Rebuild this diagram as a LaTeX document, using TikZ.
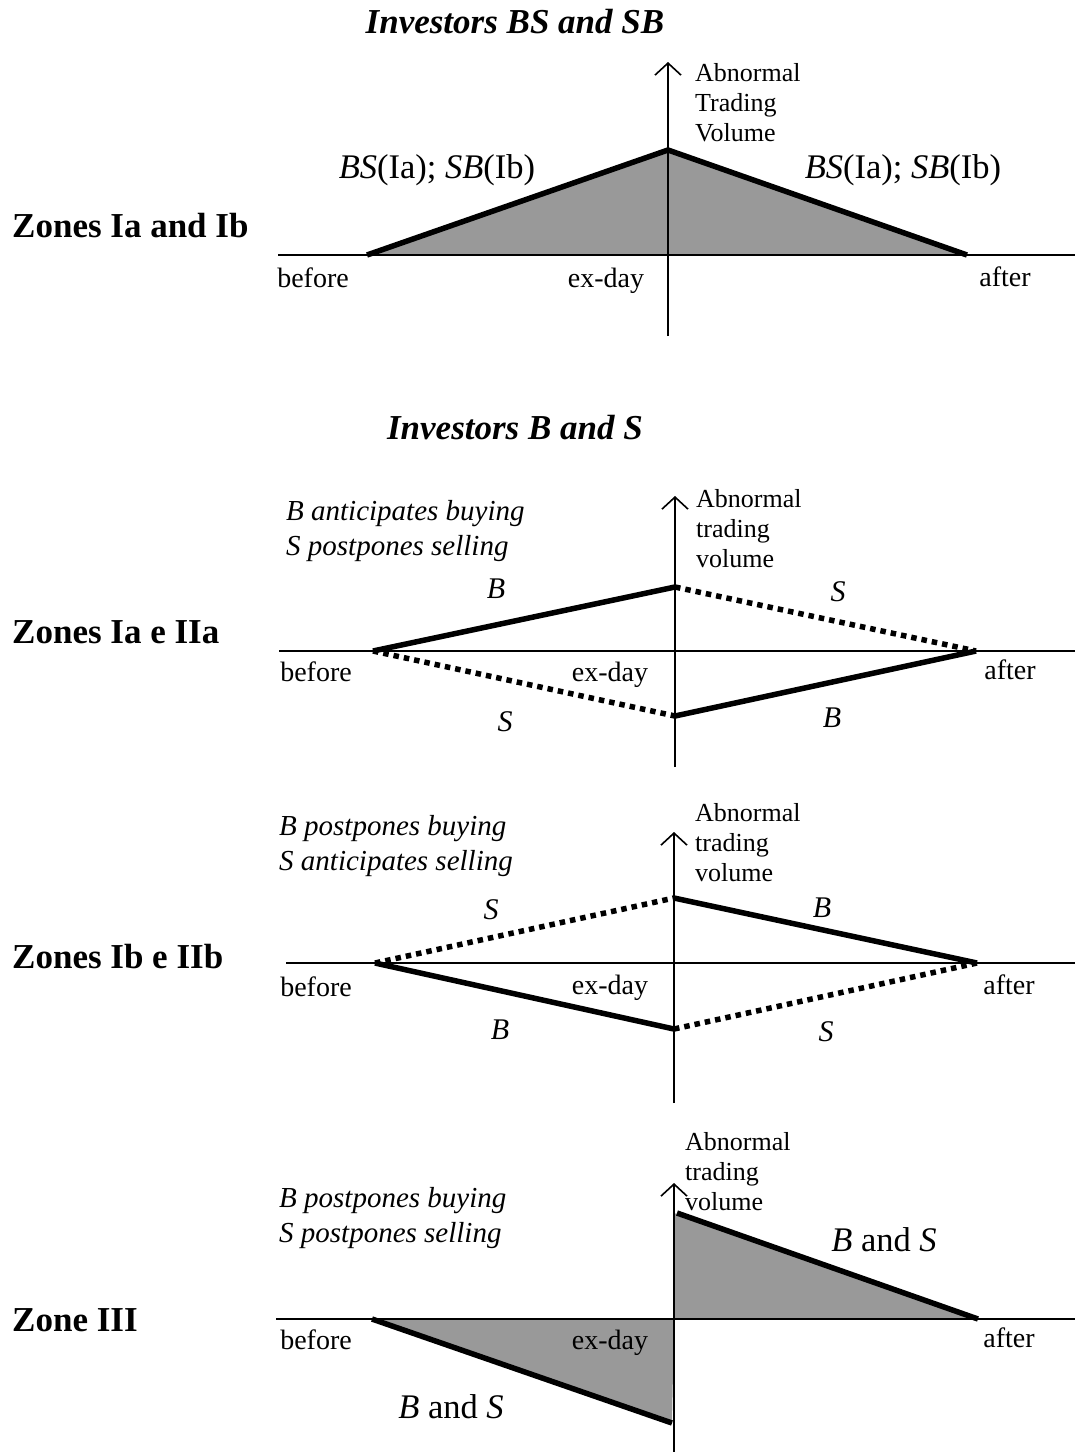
\documentclass[tikz,border=0pt]{standalone}
\usepackage{fontspec}
\setmainfont{Liberation Serif}
\usetikzlibrary{arrows.meta}
\begin{document}
\begin{tikzpicture}[x=1pt,y=-1pt,
  lbl/.style={inner sep=0pt, font=\fontsize{28}{32}\selectfont},
  ylab/.style={inner sep=0pt, anchor=west, align=left, font=\fontsize{26}{30}\selectfont},
  zone/.style={inner sep=0pt, anchor=west, font=\fontsize{35}{40}\selectfont\bfseries},
  ttl/.style={inner sep=0pt, font=\fontsize{35}{40}\selectfont\bfseries\itshape},
  desc/.style={inner sep=0pt, anchor=west, align=left, font=\fontsize{29}{35}\selectfont\itshape},
  inv/.style={inner sep=0pt, font=\fontsize{30}{34}\selectfont\itshape},
  mix/.style={inner sep=0pt, font=\fontsize{34.5}{38}\selectfont},
  haxis/.style={line width=1.6pt},
  vaxis/.style={line width=1.6pt, -{Straight Barb[length=12pt,width=26pt,line width=1.6pt]}},
  thickl/.style={line width=5.5pt},
  dotl/.style={line width=5.5pt, dash pattern=on 5.5pt off 5pt},
  area/.style={fill=black!40, draw=none}]
\useasboundingbox[fill=white] (0,0) rectangle (1075,1452);

% ---------------- Panel 1 ----------------
\node[ttl] (t1) at (515,22) {Investors BS and SB};
\node[zone] (z1) at (12,226) {Zones Ia and Ib};
\coordinate (p1l) at (278,255);  \coordinate (p1r) at (1075,255);
\coordinate (p1b) at (668,336);  \coordinate (p1t) at (668,62);
\coordinate (p1a) at (367,255);  \coordinate (p1m) at (668,150);  \coordinate (p1c) at (967,255);
\fill[area] (p1a) -- (p1m) -- (p1c) -- cycle;
\draw[haxis] (p1l) -- (p1r);
\draw[vaxis] (p1b) -- (p1t);
\draw[thickl] (p1a) -- (p1m) -- (p1c);
\node[ylab] (y1) at (695,103) {Abnormal\\Trading\\Volume};
\node[mix] (m1a) at (437,170) {\textit{BS}(Ia); \textit{SB}(Ib)};
\node[mix] (m1b) at (903,170) {\textit{BS}(Ia); \textit{SB}(Ib)};
\node[lbl] (bf1) at (313,278) {before};
\node[lbl] (ex1) at (606,281) {ex-day};
\node[lbl] (af1) at (1005,277) {after};

% ---------------- Panel 2 ----------------
\node[ttl] (t2) at (515,428) {Investors B and S};
\node[zone] (z2) at (12,632) {Zones Ia e IIa};
\coordinate (p2l) at (279,651);  \coordinate (p2r) at (1075,651);
\coordinate (p2b) at (675,767);  \coordinate (p2t) at (675,496);
\coordinate (p2a) at (373,651);  \coordinate (p2u) at (675,587);
\coordinate (p2d) at (675,716);  \coordinate (p2c) at (976,651);
\draw[haxis] (p2l) -- (p2r);
\draw[vaxis] (p2b) -- (p2t);
\draw[thickl] (p2a) -- (p2u);
\draw[dotl] (p2u) -- (p2c);
\draw[dotl] (p2a) -- (p2d);
\draw[thickl] (p2d) -- (p2c);
\node[ylab] (y2) at (696,529) {Abnormal\\trading\\volume};
\node[desc] (d2) at (286,531) {B anticipates buying\\S postpones selling};
\node[inv] (b2a) at (496,589) {B};
\node[inv] (s2a) at (838,592) {S};
\node[inv] (s2b) at (505,722) {S};
\node[inv] (b2b) at (832,718) {B};
\node[lbl] (bf2) at (316,672) {before};
\node[lbl] (ex2) at (610,675) {ex-day};
\node[lbl] (af2) at (1010,670) {after};

% ---------------- Panel 3 ----------------
\node[zone] (z3) at (12,957) {Zones Ib e IIb};
\coordinate (p3l) at (286,963);  \coordinate (p3r) at (1075,963);
\coordinate (p3b) at (674,1103); \coordinate (p3t) at (674,832);
\coordinate (p3a) at (375,963);  \coordinate (p3u) at (674,898);
\coordinate (p3d) at (674,1029); \coordinate (p3c) at (977,963);
\draw[haxis] (p3l) -- (p3r);
\draw[vaxis] (p3b) -- (p3t);
\draw[dotl] (p3a) -- (p3u);
\draw[thickl] (p3u) -- (p3c);
\draw[thickl] (p3a) -- (p3d);
\draw[dotl] (p3d) -- (p3c);
\node[ylab] (y3) at (695,843) {Abnormal\\trading\\volume};
\node[desc] (d3) at (279,846) {B postpones buying\\S anticipates selling};
\node[inv] (s3a) at (491,910) {S};
\node[inv] (b3a) at (822,908) {B};
\node[inv] (b3b) at (500,1030) {B};
\node[inv] (s3b) at (826,1032) {S};
\node[lbl] (bf3) at (316,987) {before};
\node[lbl] (ex3) at (610,988) {ex-day};
\node[lbl] (af3) at (1009,985) {after};

% ---------------- Panel 4 ----------------
\node[zone] (z4) at (12,1320) {Zone III};
\coordinate (p4l) at (276,1319); \coordinate (p4r) at (1075,1319);
\coordinate (p4b) at (674,1452); \coordinate (p4t) at (674,1183);
\coordinate (p4o) at (674,1319);
\coordinate (p4u) at (677,1213); \coordinate (p4c) at (978,1319);
\coordinate (p4a) at (372,1319); \coordinate (p4d) at (672,1423);
\fill[area] (p4o) -- (674,1213) -- (p4c) -- cycle;
\fill[area] (p4a) -- (p4d) -- (p4o) -- cycle;
\draw[haxis] (p4l) -- (p4r);
\draw[vaxis] (p4b) -- (p4t);
\draw[thickl] (p4u) -- (p4c);
\draw[thickl] (p4a) -- (p4d);
\node[ylab] (y4) at (685,1172) {Abnormal\\trading\\volume};
\node[desc] (d4) at (279,1218) {B postpones buying\\S postpones selling};
\node[mix] (bs4a) at (884,1240) {\textit{B} and \textit{S}};
\node[mix] (bs4b) at (451,1407) {\textit{B} and \textit{S}};
\node[lbl] (bf4) at (316,1340) {before};
\node[lbl] (ex4) at (610,1343) {ex-day};
\node[lbl] (af4) at (1009,1338) {after};
\end{tikzpicture}
\end{document}
